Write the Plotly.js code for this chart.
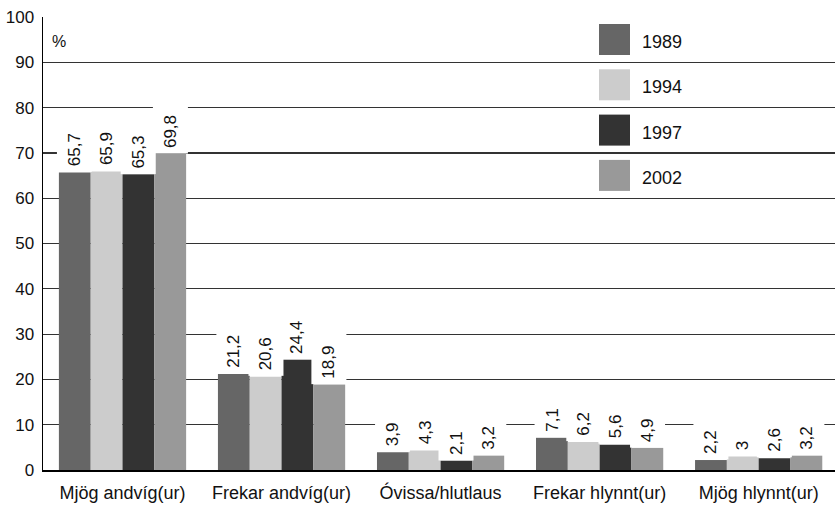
<!DOCTYPE html>
<html><head><meta charset="utf-8">
<script src="https://cdn.plot.ly/plotly-3.0.1.min.js"></script>
<style>html,body{margin:0;padding:0;background:#fff}</style>
</head><body>
<div id="chart" style="width:835px;height:507px"></div>
<script>
const categories = ["Mjög andvíg(ur)", "Frekar andvíg(ur)", "Óvissa/hlutlaus", "Frekar hlynnt(ur)", "Mjög hlynnt(ur)"];
const years = ["1989", "1994", "1997", "2002"];
const v1989 = [65.7, 21.2, 3.9, 7.1, 2.2];
const v1994 = [65.9, 20.6, 4.3, 6.2, 3];
const v1997 = [65.3, 24.4, 2.1, 5.6, 2.6];
const v2002 = [69.8, 18.9, 3.2, 4.9, 3.2];
const yTicks = [0, 10, 20, 30, 40, 50, 60, 70, 80, 90, 100];

const series = [v1989, v1994, v1997, v2002];
const colors = ["#666666", "#cccccc", "#333333", "#999999"];
const FONT = "Liberation Sans, Arial, sans-serif";

const L = 43, R = 835, T = 17, B = 470;
const px = x => (x - L) / (R - L);
const py = y => (B - y) / (B - T);

const traces = series.map((vals, i) => ({
  type: "bar", name: years[i], x: categories, y: vals,
  marker: {color: colors[i], line: {width: 0}},
  hoverinfo: "none", showlegend: false
}));

const annotations = [];
const nS = series.length;
const groupW = 0.8, barW = groupW / nS;
series.forEach((vals, i) => {
  vals.forEach((v, j) => {
    annotations.push({
      xref: "x", yref: "y",
      x: j - groupW / 2 + barW * (i + 0.5), y: v,
      text: String(v).replace(".", ","),
      textangle: -90, showarrow: false,
      xanchor: "center", yanchor: "bottom",
      bgcolor: "#ffffff", borderpad: 5, width: 40, height: 24, align: "left",
      font: {family: FONT, size: 17, color: "#111"}
    });
  });
});
annotations.push({xref: "paper", yref: "paper", x: px(50), y: py(42), text: "%",
  showarrow: false, xanchor: "left", yanchor: "middle", font: {family: FONT, size: 16, color: "#111"}});

const shapes = [];
years.forEach((yr, i) => {
  const top = 24 + i * 45.3;
  shapes.push({type: "rect", xref: "paper", yref: "paper",
    x0: px(599), x1: px(630), y0: py(top + 31), y1: py(top),
    fillcolor: colors[i], line: {width: 0}});
  annotations.push({xref: "paper", yref: "paper", x: px(640), y: py(top + 18), text: yr,
    showarrow: false, xanchor: "left", yanchor: "middle", font: {family: FONT, size: 18, color: "#111"}});
});

const layout = {
  width: 835, height: 507,
  margin: {l: L, r: 835 - R, t: T, b: 507 - B, pad: 0},
  paper_bgcolor: "#fff", plot_bgcolor: "#fff",
  barmode: "group", bargap: 0.2, bargroupgap: 0,
  showlegend: false,
  xaxis: {type: "category", range: [-0.5, 4.48], showgrid: false, showline: true, linecolor: "#000", linewidth: 1.5,
    ticks: "", ticklabelstandoff: 6, tickfont: {family: FONT, size: 18, color: "#111"}, fixedrange: true},
  yaxis: {range: [0, 100], tickvals: yTicks, showgrid: true, gridcolor: "#333", gridwidth: 1.2,
    showline: true, linecolor: "#000", linewidth: 1.5, zeroline: false, ticks: "", ticklabelstandoff: 4,
    tickfont: {family: FONT, size: 17, color: "#111"}, fixedrange: true},
  annotations: annotations, shapes: shapes
};

Plotly.newPlot("chart", traces, layout, {displayModeBar: false, staticPlot: true});
</script>
</body></html>
